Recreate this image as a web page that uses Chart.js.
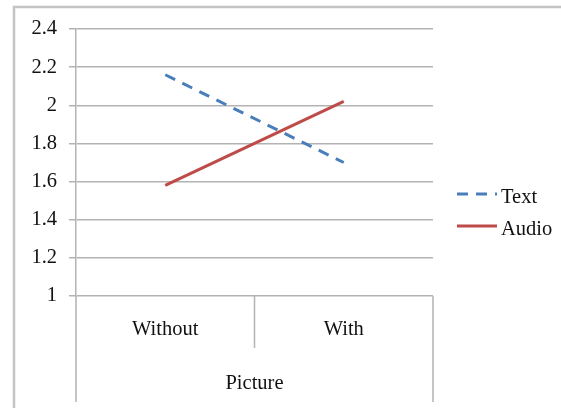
<!DOCTYPE html>
<html>
<head>
<meta charset="utf-8">
<script src="https://cdn.jsdelivr.net/npm/chart.js@4"></script>
<style>
html,body{margin:0;padding:0;background:#fff;}
#wrap{width:561px;height:408px;position:relative;}
#pre{position:absolute;left:-999px;top:0;font-family:"Liberation Serif";font-size:20px;}
</style>
</head>
<body>
<div id="pre">Without With Picture Text Audio 1.2</div>
<div id="wrap"><canvas id="c" width="561" height="408"></canvas></div>
<script>
const categories = ['Without', 'With'];
const groupLabel = 'Picture';
const seriesNames = ['Text', 'Audio'];
const textValues = [2.16, 1.70];
const audioValues = [1.58, 2.02];
const yTickLabels = ['1', '1.2', '1.4', '1.6', '1.8', '2', '2.2', '2.4'];

const FONT = '"Liberation Serif", serif';
const FS = 20.5;
const GRID = '#b3b3b3';

const decor = {
  id: 'decor',
  beforeDraw(chart) {
    const ctx = chart.ctx;
    ctx.save();
    ctx.strokeStyle = '#c4c4c4';
    ctx.lineWidth = 2.5;
    ctx.beginPath();
    ctx.moveTo(14, 420);
    ctx.lineTo(14, 7);
    ctx.lineTo(561, 7);
    ctx.stroke();
    ctx.restore();
  },
  afterDraw(chart) {
    const ctx = chart.ctx;
    const x = chart.scales.x, a = chart.chartArea;
    ctx.save();
    ctx.strokeStyle = GRID;
    ctx.lineWidth = 1.5;
    const n = categories.length;
    const left = a.left, right = a.right;
    const step = (right - left) / n;
    ctx.beginPath();
    ctx.moveTo(left, a.bottom); ctx.lineTo(left, 402);
    ctx.moveTo(right, a.bottom); ctx.lineTo(right, 402);
    for (let i = 1; i < n; i++) {
      const px = left + step * i;
      ctx.moveTo(px, a.bottom); ctx.lineTo(px, 348);
    }
    ctx.stroke();
    ctx.fillStyle = '#111';
    ctx.font = FS + 'px ' + FONT;
    ctx.textAlign = 'center';
    ctx.textBaseline = 'middle';
    categories.forEach((c, i) => {
      ctx.fillText(c, x.getPixelForValue(i), 330);
    });
    ctx.fillText(groupLabel, (left + right) / 2, 384);
    const ds = chart.data.datasets;
    const ly = [194, 226];
    ds.forEach((d, i) => {
      ctx.strokeStyle = d.borderColor;
      ctx.lineWidth = 3;
      ctx.setLineDash(d.borderDash || []);
      ctx.beginPath();
      ctx.moveTo(457, ly[i]); ctx.lineTo(497, ly[i]);
      ctx.stroke();
      ctx.setLineDash([]);
      ctx.textAlign = 'left';
      ctx.fillText(d.label, 501, ly[i] + 4);
    });
    ctx.restore();
  }
};

function build() {
  new Chart(document.getElementById('c'), {
    type: 'line',
    data: {
      labels: categories,
      datasets: [
        { label: seriesNames[0], data: textValues, borderColor: '#4a7ebb', borderWidth: 3, borderDash: [11, 8], pointRadius: 0, fill: false, tension: 0 },
        { label: seriesNames[1], data: audioValues, borderColor: '#be4b48', borderWidth: 3, pointRadius: 0, fill: false, tension: 0 }
      ]
    },
    options: {
      responsive: false,
      animation: false,
      events: [],
      layout: { padding: { left: 0, right: 128, top: 29, bottom: 0 } },
      plugins: { legend: { display: false }, tooltip: { enabled: false } },
      scales: {
        x: {
          type: 'category',
          offset: true,
          grid: { display: false },
          border: { display: false },
          ticks: { display: false },
          afterFit(s) { s.height = 408 - 296; }
        },
        y: {
          min: 1, max: 2.4,
          afterBuildTicks(s) { s.ticks = yTickLabels.map(v => ({ value: parseFloat(v) })); },
          ticks: {
            padding: 12,
            color: '#111',
            font: { family: FONT, size: FS },
            callback: (v, i) => yTickLabels[i]
          },
          grid: { color: GRID, lineWidth: 1.5, tickLength: 7 },
          border: { display: true, color: GRID, width: 1.5 },
          afterFit(s) { s.width = 76; }
        }
      }
    },
    plugins: [decor]
  });
}

if (document.fonts && document.fonts.load) {
  document.fonts.load(FS + 'px "Liberation Serif"').then(build, build);
} else {
  build();
}
</script>
</body>
</html>
